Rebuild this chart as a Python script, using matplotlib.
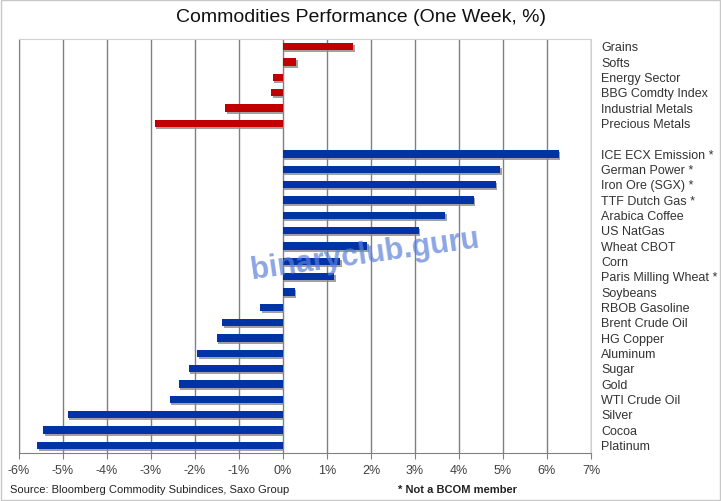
import numpy as np
import matplotlib
matplotlib.use("Agg")
import matplotlib.pyplot as plt
import matplotlib.patheffects as pe

# Sector indices (red) and single commodities (blue), one week % change
sectors = ["Grains", "Softs", "Energy Sector", "BBG Comdty Index",
           "Industrial Metals", "Precious Metals"]
sector_values = [1.60, 0.30, -0.23, -0.27, -1.31, -2.92]

commodities = ["ICE ECX Emission *", "German Power *", "Iron Ore (SGX) *",
               "TTF Dutch Gas *", "Arabica Coffee", "US NatGas", "Wheat CBOT",
               "Corn", "Paris Milling Wheat *", "Soybeans", "RBOB Gasoline",
               "Brent Crude Oil", "HG Copper", "Aluminum", "Sugar", "Gold",
               "WTI Crude Oil", "Silver", "Cocoa", "Platinum"]
commodity_values = [6.27, 4.94, 4.83, 4.33, 3.69, 3.09, 1.92, 1.30, 1.17, 0.27,
                    -0.52, -1.38, -1.50, -1.95, -2.14, -2.37, -2.57, -4.89,
                    -5.45, -5.58]

x_ticks = list(range(-6, 8))

plt.rcParams['font.family'] = ['Liberation Sans', 'DejaVu Sans']

fig = plt.figure(figsize=(7.21, 5.02), dpi=100)
ax = fig.add_axes([19 / 721, 1 - 454 / 502, 572 / 721, 414 / 502])

# one empty slot between the two groups
sector_pos = np.arange(len(sectors))
commodity_pos = np.arange(len(commodities)) + len(sectors) + 1
shadow = [pe.SimplePatchShadow(offset=(1, -1.5), shadow_rgbFace='#8a8a8a', alpha=0.8),
          pe.Normal()]

ax.barh(sector_pos, sector_values, height=0.47, color='#C00000',
        path_effects=shadow, zorder=3)
ax.barh(commodity_pos, commodity_values, height=0.47, color='#0033A6',
        path_effects=shadow, zorder=3)

ax.set_xlim(-6, 7)
ax.set_ylim(len(sectors) + len(commodities) + 0.5, -0.5)
ax.set_xticks(x_ticks)
ax.set_xticklabels([f"{t}%" for t in x_ticks], fontsize=9, color='#404040')
ax.tick_params(axis='x', length=4, color='#808080', pad=4)
ax.set_yticks([])
ax.grid(axis='x', color='#808080', linewidth=1, zorder=0)
for side in ['top', 'right']:
    ax.spines[side].set_color('#d0d0d0')
for side in ['left', 'bottom']:
    ax.spines[side].set_color('#808080')

# category labels on the right of the plot
for p, name in zip(sector_pos, sectors):
    ax.text(1 + 10 / 572, p + 0.05, name, transform=ax.get_yaxis_transform(),
            va='center', ha='left', fontsize=9, color='#333333')
for p, name in zip(commodity_pos, commodities):
    ax.text(1 + 10 / 572, p + 0.05, name, transform=ax.get_yaxis_transform(),
            va='center', ha='left', fontsize=9, color='#333333')

fig.text(0.5, 1 - 17 / 502, "Commodities Performance (One Week, %)",
         ha='center', va='center', fontsize=14, color='#111111')
fig.text(10 / 721, 1 - 490 / 502, "Source: Bloomberg Commodity Subindices, Saxo Group",
         ha='left', va='center', fontsize=8, color='#222222')
fig.text(398 / 721, 1 - 490 / 502, "* Not a BCOM member",
         ha='left', va='center', fontsize=8, fontweight='bold', color='#222222')

# watermark
fig.text(365 / 721, 1 - 255 / 502, "binaryclub.guru", ha='center', va='center',
         fontsize=22, fontweight='bold', color='#5b7fd8', alpha=0.7, rotation=8,
         zorder=10)

# light border round the whole picture
fig.patches.append(plt.Rectangle((0.001, 0.001), 0.997, 0.997, transform=fig.transFigure,
                                 fill=False, edgecolor='#c8c8c8', linewidth=1))

fig.savefig("out.png", dpi=100)
